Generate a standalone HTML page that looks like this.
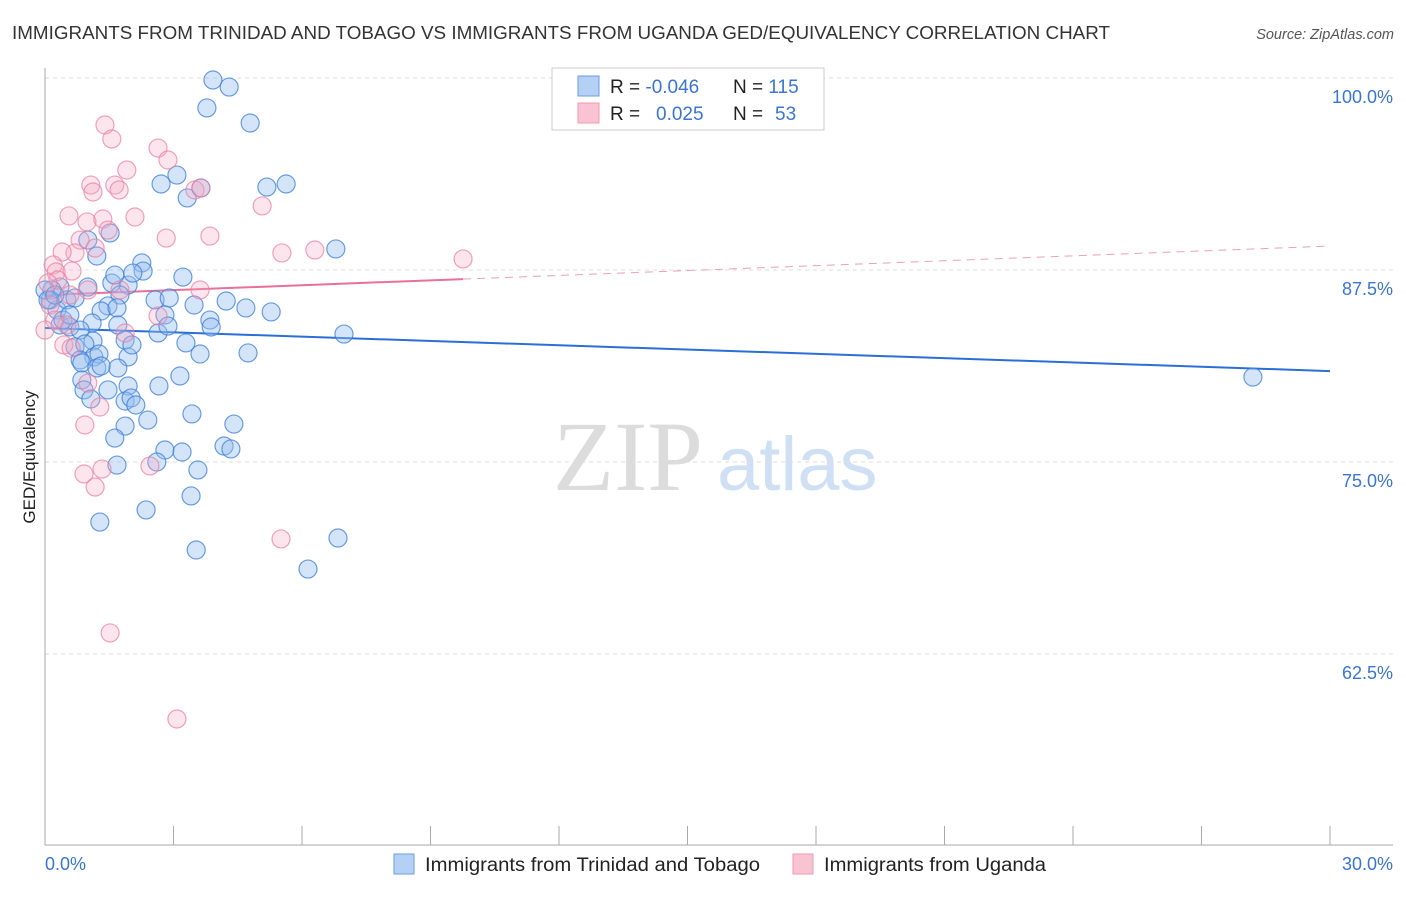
<!DOCTYPE html>
<html><head><meta charset="utf-8"><style>
body{margin:0;background:#fff;width:1406px;height:892px;overflow:hidden;font-family:"Liberation Sans",sans-serif}
</style></head><body>
<svg id="chart" width="1406" height="892" xmlns="http://www.w3.org/2000/svg" font-family="Liberation Sans, sans-serif">
<text x="12" y="39" font-size="18" fill="#333" textLength="1098" lengthAdjust="spacingAndGlyphs">IMMIGRANTS FROM TRINIDAD AND TOBAGO VS IMMIGRANTS FROM UGANDA GED/EQUIVALENCY CORRELATION CHART</text>
<text x="1394" y="39" font-size="14.5" fill="#555" font-style="italic" text-anchor="end">Source: ZipAtlas.com</text>
<g>
<text x="553" y="490" font-size="100" font-family="Liberation Serif, serif" fill="#dcdcdc">ZIP</text>
<text x="717" y="490" font-size="76" fill="#cfe0f5">atlas</text>
</g>
<g id="grid"></g>
<g id="axes"></g>
<text transform="translate(35,457) rotate(-90)" font-size="17" fill="#222" text-anchor="middle">GED/Equivalency</text>
<g id="trend"></g>
<g id="pts"></g>
<g>
<rect x="552" y="68" width="272" height="62" fill="#fff" stroke="#ccc"/>
<rect x="578" y="76" width="21" height="20" fill="#b5d0f5" stroke="#6a9ce0"/>
<rect x="578" y="103" width="21" height="20" fill="#fac3d3" stroke="#ee99b3"/>
<text x="610" y="93" font-size="19" fill="#222">R = <tspan fill="#3b74d1">-0.046</tspan><tspan x="733">N = </tspan><tspan fill="#3b74d1">115</tspan></text>
<text x="610" y="120" font-size="19" fill="#222">R = <tspan x="656" fill="#3b74d1">0.025</tspan><tspan x="733">N = </tspan><tspan x="775" fill="#3b74d1">53</tspan></text>
</g>
<g>
<rect x="394" y="854" width="20" height="20" fill="#b5d0f5" stroke="#6a9ce0"/>
<text x="425" y="871" font-size="19" fill="#222" textLength="335" lengthAdjust="spacingAndGlyphs">Immigrants from Trinidad and Tobago</text>
<rect x="793" y="854" width="20" height="20" fill="#fac3d3" stroke="#ee99b3"/>
<text x="824" y="871" font-size="19" fill="#222" textLength="222" lengthAdjust="spacingAndGlyphs">Immigrants from Uganda</text>
</g>
</svg>
<script>
const NS="http://www.w3.org/2000/svg";
const blueX=[3.92,4.30,3.78,4.79,2.71,3.08,3.32,3.64,5.18,5.63,6.79,1.52,1.21,2.26,2.29,3.22,1.00,0.35,0.16,0.12,0.28,0.51,0.70,1.00,1.56,1.94,1.63,2.05,1.75,1.47,1.31,1.68,2.57,2.90,3.48,4.23,4.69,5.28,2.80,3.85,3.88,1.10,0.35,0.58,0.82,1.70,2.64,2.87,6.98,1.12,0.70,0.93,1.14,1.26,0.82,0.86,1.87,1.94,2.03,3.29,3.62,4.74,1.21,1.70,1.31,0.86,1.94,2.66,3.15,0.91,1.47,1.07,1.87,2.01,2.12,3.43,2.40,4.41,1.87,1.63,4.18,4.34,2.80,3.20,2.61,1.68,3.57,3.41,2.36,1.28,3.53,6.84,6.14,28.20,0,0.07,0.23,0.42,0.58];
const blueY=[99.87,99.41,98.05,97.07,93.10,93.68,92.19,92.84,92.90,93.10,88.87,89.91,88.41,87.96,87.43,87.04,89.45,86.39,86.20,85.55,84.90,85.55,85.68,86.39,86.65,86.52,87.17,87.30,85.87,85.16,84.83,85.03,85.55,85.68,85.22,85.48,85.03,84.77,84.57,84.24,83.79,84.05,83.92,83.79,83.59,83.92,83.40,83.85,83.33,82.88,82.49,82.68,81.84,82.03,81.64,81.45,82.94,81.84,82.62,82.75,82.03,82.10,81.12,81.12,81.25,80.34,79.95,79.95,80.60,79.69,79.69,79.10,78.97,79.17,78.71,78.13,77.73,77.47,77.34,76.56,76.04,75.85,75.78,75.65,75.00,74.80,74.48,72.79,71.88,71.09,69.27,70.05,68.03,80.53,86.20,85.55,85.87,84.24,84.57];
const pinkX=[1.40,1.56,2.64,2.87,1.91,1.07,1.12,1.63,1.73,2.10,0.56,0.98,1.35,3.50,3.64,5.07,3.85,2.83,1.47,0.82,1.17,0.70,0.40,0.19,0.26,0.63,5.53,6.30,9.76,0.30,0.58,1.00,3.62,1.75,2.64,0.51,0.44,0.61,1.00,1.28,0.93,0.91,1.17,1.33,2.45,5.51,1.52,3.08,1.87,0.12,0.23,0,0.07];
const pinkY=[96.94,96.03,95.44,94.66,94.01,93.03,92.58,93.03,92.71,90.95,91.02,90.63,90.82,92.71,92.84,91.67,89.71,89.58,90.10,89.45,88.93,88.61,88.67,87.83,87.37,87.43,88.61,88.80,88.22,86.85,85.87,86.20,86.20,86.20,84.51,83.92,82.62,82.42,80.14,78.58,77.41,74.22,73.37,74.54,74.74,69.99,63.87,58.27,83.40,85.22,84.24,83.59,86.65];
const blueTrend=[83.72,80.92];
const pinkTrend=[85.87,89.06];
const yTicks=[100,87.5,75,62.5];
const yTickLabels=["100.0%","87.5%","75.0%","62.5%"];
const xEnds=["0.0%","30.0%"];
const X0=45,X1=1330,Y100=78,PPY=15.36;
const sx=v=>X0+v/30*(X1-X0);
const sy=v=>Y100+(100-v)*PPY;
function mk(tag,attrs,parent){const e=document.createElementNS(NS,tag);for(const k in attrs)e.setAttribute(k,attrs[k]);parent.appendChild(e);return e;}
const grid=document.getElementById('grid'),axes=document.getElementById('axes'),trend=document.getElementById('trend'),pts=document.getElementById('pts');
yTicks.forEach((t,i)=>{
 const l=mk('line',{x1:X0,x2:1393,y1:sy(t),y2:sy(t),stroke:'#ddd','stroke-dasharray':'4,4'},grid);
 
 
 const tx=mk('text',{x:1393,y:sy(t)+25,'font-size':18,fill:'#3b74d1','text-anchor':'end'},axes);
 tx.textContent=yTickLabels[i];
 
 
});
const la=mk('line',{x1:X0,x2:X0,y1:68,y2:845,stroke:'#aaa'},axes);


const lb=mk('line',{x1:X0,x2:1393,y1:845,y2:845,stroke:'#aaa'},axes);


for(let i=0;i<=10;i++){const v=i*3;const t=mk('line',{x1:sx(v),x2:sx(v),y1:826,y2:845,stroke:'#aaa'},axes);
 
 }
const xa=mk('text',{x:45,y:870,'font-size':18,fill:'#3b74d1'},axes);xa.textContent=xEnds[0];


const xb=mk('text',{x:1393,y:870,'font-size':18,fill:'#3b74d1','text-anchor':'end'},axes);xb.textContent=xEnds[1];


function dot(x,y,fill,stroke,name){const c=mk('circle',{cx:sx(x),cy:sy(y),r:9,fill:fill,stroke:stroke,'stroke-width':1.2},pts);
 
 }
blueX.forEach((x,i)=>dot(x,blueY[i],'rgba(150,190,240,0.4)','rgba(60,125,215,0.75)','blue-point'));
pinkX.forEach((x,i)=>dot(x,pinkY[i],'rgba(245,170,195,0.3)','rgba(232,125,160,0.7)','pink-point'));
const bt=mk('line',{x1:sx(0),y1:sy(blueTrend[0]),x2:sx(30),y2:sy(blueTrend[1]),stroke:'#2a6fd6','stroke-width':2},trend);


const pm=Math.max(...pinkX);
const pAt=v=>pinkTrend[0]+(pinkTrend[1]-pinkTrend[0])*v/30;
const pt=mk('line',{x1:sx(0),y1:sy(pinkTrend[0]),x2:sx(pm),y2:sy(pAt(pm)),stroke:'#e8709a','stroke-width':2},trend);


const pd=mk('line',{x1:sx(pm),y1:sy(pAt(pm)),x2:sx(30),y2:sy(pinkTrend[1]),stroke:'#eba0b8','stroke-width':1,'stroke-dasharray':'8,6'},trend);


</script>
</body></html>
